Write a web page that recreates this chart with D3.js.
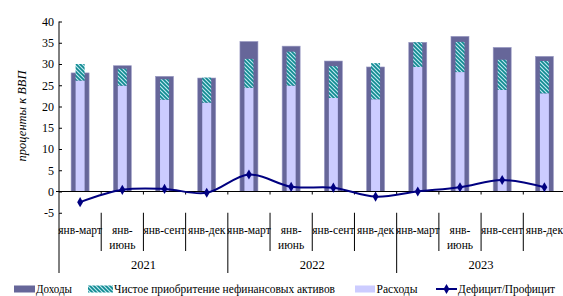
<!DOCTYPE html>
<html>
<meta charset="utf-8">
<head>
<script src="https://cdn.jsdelivr.net/npm/d3@7"></script>
<style>
body { margin: 0; background: #fff; }
</style>
</head>
<body>
<div id="chart"></div>
<script>
// data
var categories = ["янв-март", "янв-\nиюнь", "янв-сент", "янв-дек",
                  "янв-март", "янв-\nиюнь", "янв-сент", "янв-дек",
                  "янв-март", "янв-\nиюнь", "янв-сент", "янв-дек"];
var years = ["2021", "2022", "2023"];
var dohody = [27.9, 29.6, 27.1, 26.7, 35.3, 34.2, 30.7, 29.3, 35.1, 36.5, 33.9, 31.8];
var rashody = [26.1, 24.9, 21.6, 20.9, 24.4, 24.9, 22.0, 21.7, 29.3, 28.1, 23.9, 23.1];
var aktivy = [3.9, 4.0, 4.8, 5.9, 6.8, 8.0, 7.5, 8.5, 5.8, 7.1, 7.1, 7.6];
var saldo = [-2.5, 0.4, 0.6, -0.3, 4.0, 1.1, 0.9, -1.2, 0.0, 1.0, 2.7, 1.0];
var yTicks = [-5, 0, 5, 10, 15, 20, 25, 30, 35, 40];
var legendItems = ["Доходы", "Чистое приобритение нефинансовых активов", "Расходы", "Дефицит/Профицит"];

var FONT = "'Liberation Serif', 'Times New Roman', Times, serif";
var W = 563, H = 296;
var svg = d3.select("#chart").append("svg")
    .attr("width", W).attr("height", H)
    .style("font-family", FONT);

var defs = svg.append("defs");
var pat = defs.append("pattern")
    .attr("id", "hatch")
    .attr("patternUnits", "userSpaceOnUse")
    .attr("width", 4).attr("height", 4);
pat.append("rect").attr("width", 4).attr("height", 4).attr("fill", "#bfe6f2");
pat.append("path")
    .attr("d", "M-1,-1 L5,5 M-1,3 L1,5 M3,-1 L5,1")
    .attr("stroke", "#0e8a8f").attr("stroke-width", 1.6);

var x = d3.scaleBand()
    .domain(d3.range(categories.length))
    .range([59, 565.5]);
var y = d3.scaleLinear()
    .domain([-5, 40])
    .range([212.75, 21.5]);

var cw = x.bandwidth();

// Доходы (wide dark bars)
svg.selectAll(".doh")
    .data(dohody)
    .enter().append("rect")
    .attr("x", function(d, i) { return x(i) + cw / 2 - 9; })
    .attr("y", function(d) { return y(d); })
    .attr("width", 18)
    .attr("height", function(d) { return y(0) - y(d); })
    .attr("fill", "#666699")
    .attr("stroke", "#9a9ac4")
    .attr("stroke-width", 0.6);

// Расходы (narrow light bars)
svg.selectAll(".ras")
    .data(rashody)
    .enter().append("rect")
    .attr("x", function(d, i) { return x(i) + cw / 2 - 4.5; })
    .attr("y", function(d) { return y(d); })
    .attr("width", 9)
    .attr("height", function(d) { return y(0) - y(d); })
    .attr("fill", "#ccccff");

// Чистое приобретение (hatched, on top of Расходы)
svg.selectAll(".akt")
    .data(aktivy)
    .enter().append("rect")
    .attr("x", function(d, i) { return x(i) + cw / 2 - 4.5; })
    .attr("y", function(d, i) { return y(rashody[i] + d); })
    .attr("width", 9)
    .attr("height", function(d, i) { return y(rashody[i]) - y(rashody[i] + d); })
    .attr("fill", "url(#hatch)");

// y axis
var yAxis = d3.axisLeft(y).tickValues(yTicks).tickSize(-3).tickPadding(5)
    .tickFormat(function(d) { return d; });
var ya = svg.append("g").attr("transform", "translate(59,0)").call(yAxis);
ya.attr("font-family", FONT).attr("font-size", 12);
ya.select(".domain").attr("stroke", "#000").attr("d", "M0,21.5V212.75");
ya.selectAll(".tick line").attr("stroke", "#000");
ya.selectAll("text").attr("fill", "#000");
ya.append("line").attr("x1", -3).attr("x2", 0).attr("y1", y(0)).attr("y2", y(0)).attr("stroke", "#000");

// zero line with small ticks
svg.append("line")
    .attr("x1", 59).attr("x2", 565.5)
    .attr("y1", y(0)).attr("y2", y(0))
    .attr("stroke", "#000").attr("stroke-width", 1);
svg.selectAll(".zt")
    .data(d3.range(1, categories.length))
    .enter().append("line")
    .attr("x1", function(d) { return x(d); })
    .attr("x2", function(d) { return x(d); })
    .attr("y1", y(0)).attr("y2", y(0) + 3)
    .attr("stroke", "#000");

// line
var line = d3.line()
    .x(function(d, i) { return x(i) + cw / 2; })
    .y(function(d) { return y(d); })
    .curve(d3.curveCatmullRom.alpha(0.5));
svg.append("path")
    .datum(saldo)
    .attr("d", line)
    .attr("fill", "none")
    .attr("stroke", "#000080")
    .attr("stroke-width", 2);
var diamond = d3.symbol().type(d3.symbolDiamond).size(30);
svg.selectAll(".mk")
    .data(saldo)
    .enter().append("path")
    .attr("d", diamond)
    .attr("transform", function(d, i) { return "translate(" + (x(i) + cw / 2) + "," + y(d) + ")"; })
    .attr("fill", "#000080");

// category labels
var catTop = 212.75;
svg.selectAll(".sep")
    .data(d3.range(0, categories.length))
    .enter().append("line")
    .attr("x1", function(d) { return x(d); })
    .attr("x2", function(d) { return x(d); })
    .attr("y1", catTop)
    .attr("y2", function(d) { return d % 4 == 0 ? 273 : 251; })
    .attr("stroke", "#000");

var cl = svg.selectAll(".cat")
    .data(categories)
    .enter().append("text")
    .attr("text-anchor", "middle")
    .style("font-size", "11.5px");
cl.each(function(d, i) {
    var parts = d.split("\n");
    var t = d3.select(this);
    parts.forEach(function(p, k) {
        t.append("tspan")
            .attr("x", x(i) + cw / 2)
            .attr("y", 233.5 + k * 15.5)
            .text(p);
    });
});

svg.selectAll(".yr")
    .data(years)
    .enter().append("text")
    .attr("x", function(d, i) { return (x(i * 4) + x(i * 4 + 3) + cw) / 2; })
    .attr("y", 269)
    .attr("text-anchor", "middle")
    .style("font-size", "12.5px")
    .text(function(d) { return d; });

// y title
svg.append("text")
    .attr("transform", "translate(26,116) rotate(-90)")
    .attr("text-anchor", "middle")
    .style("font-size", "12.5px")
    .style("font-style", "italic")
    .text("проценты к ВВП");

// legend
var lg = svg.append("g").style("font-size", "12.5px");
lg.append("rect").attr("x", 14).attr("y", 285.5).attr("width", 21).attr("height", 7).attr("fill", "#666699");
lg.append("text").attr("x", 36).attr("y", 292.5).attr("textLength", 36).attr("lengthAdjust", "spacingAndGlyphs").text(legendItems[0]);
lg.append("rect").attr("x", 88).attr("y", 285.5).attr("width", 25).attr("height", 7).attr("fill", "url(#hatch)");
lg.append("text").attr("x", 114).attr("y", 292.5).attr("textLength", 221).attr("lengthAdjust", "spacingAndGlyphs").text(legendItems[1]);
lg.append("rect").attr("x", 355).attr("y", 285.5).attr("width", 20).attr("height", 7).attr("fill", "#ccccff");
lg.append("text").attr("x", 376.5).attr("y", 292.5).attr("textLength", 41).attr("lengthAdjust", "spacingAndGlyphs").text(legendItems[2]);
lg.append("line").attr("x1", 436).attr("x2", 457).attr("y1", 289).attr("y2", 289)
    .attr("stroke", "#000080").attr("stroke-width", 2);
lg.append("path").attr("d", diamond).attr("transform", "translate(446.5,289)").attr("fill", "#000080");
lg.append("text").attr("x", 458).attr("y", 292.5).attr("textLength", 97).attr("lengthAdjust", "spacingAndGlyphs").text(legendItems[3]);
</script>
</body>
</html>
